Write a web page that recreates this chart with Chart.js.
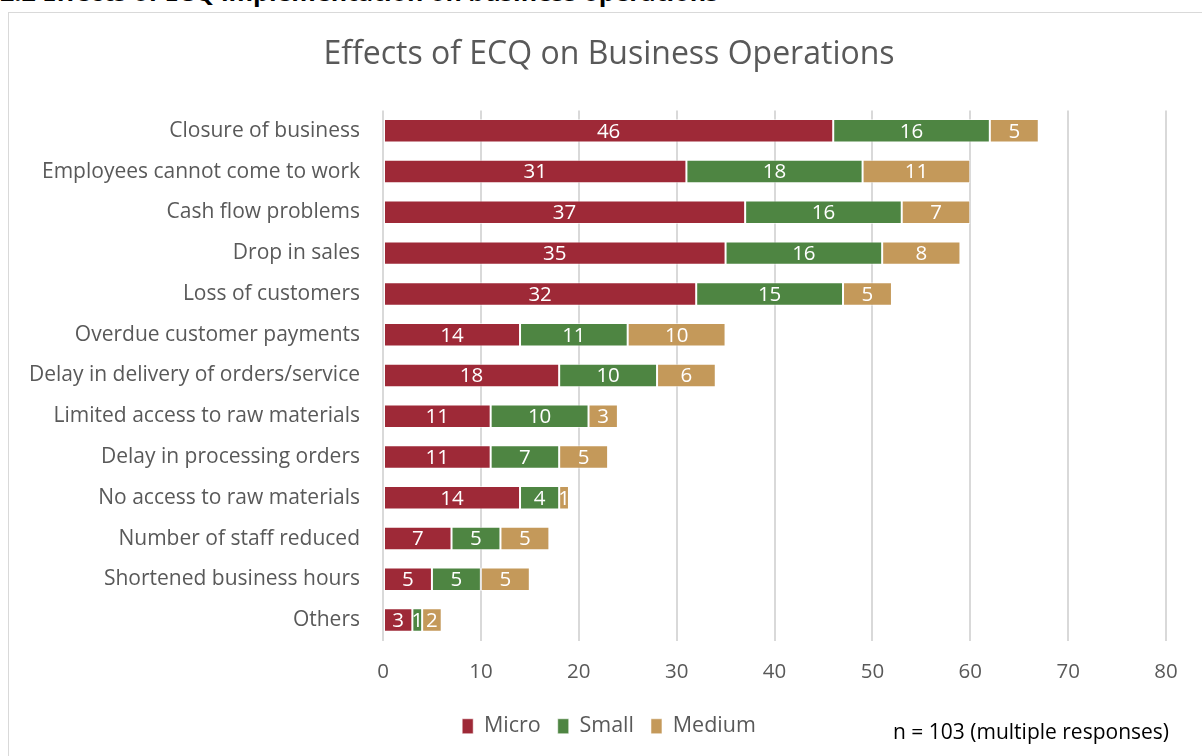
<!DOCTYPE html>
<html>
<head>
<meta charset="utf-8">
<script src="https://cdn.jsdelivr.net/npm/chart.js@4.4.1/dist/chart.umd.min.js"></script>
<style>
    html, body { margin: 0; padding: 0; background: #fff; overflow: hidden; }
    body { width: 1202px; height: 756px; position: relative; font-family: "Open Sans", sans-serif; }
    .heading {
        position: absolute; left: 0; top: -19px;
        font-size: 25px; font-weight: bold; color: #000; line-height: 20px; white-space: nowrap;
    }
    .frame {
        position: absolute; left: 8px; top: 12px; width: 1210px; height: 760px;
        border: 1px solid #d9d9d9; box-sizing: border-box;
    }
    .frame canvas { position: absolute; left: 0; top: 0; }
    .note {
        position: absolute; left: 893px; top: 717px;
        font-size: 21px; color: #000; white-space: nowrap;
    }
</style>
</head>
<body>
<div class="heading">2.2 Effects of ECQ implementation on business operations</div>
<div class="frame">
    <canvas id="chart" width="1200" height="758"></canvas>
</div>
<div class="note">n = 103 (multiple responses)</div>
<script>
const categories = [
    "Closure of business",
    "Employees cannot come to work",
    "Cash flow problems",
    "Drop in sales",
    "Loss of customers",
    "Overdue customer payments",
    "Delay in delivery of orders/service",
    "Limited access to raw materials",
    "Delay in processing orders",
    "No access to raw materials",
    "Number of staff reduced",
    "Shortened business hours",
    "Others",
];
const micro  = [46, 31, 37, 35, 32, 14, 18, 11, 11, 14, 7, 5, 3];
const small  = [16, 18, 16, 16, 15, 11, 10, 10, 7, 4, 5, 5, 1];
const medium = [5, 11, 7, 8, 5, 10, 6, 3, 5, 1, 5, 5, 2];
const xTicks = [0, 10, 20, 30, 40, 50, 60, 70, 80];

const FONT = "'Open Sans', sans-serif";
const GREY = "#595959";

// value labels centred inside every bar segment
const segmentLabels = {
    id: "segmentLabels",
    afterDatasetsDraw(chart) {
        const ctx = chart.ctx;
        ctx.save();
        ctx.font = `20.5px ${FONT}`;
        ctx.fillStyle = "#fff";
        ctx.textAlign = "center";
        ctx.textBaseline = "middle";
        chart.data.datasets.forEach((ds, i) => {
            chart.getDatasetMeta(i).data.forEach((bar, j) => {
                const v = ds.data[j];
                if (!v) return;
                ctx.fillText(String(v), (bar.x + bar.base) / 2, bar.y + 1);
            });
        });
        ctx.restore();
    },
};

function series(label, data, color) {
    return {
        label,
        data,
        backgroundColor: color,
        borderColor: "rgba(255,255,255,0.55)",
        borderWidth: 1,
        borderSkipped: false,
        categoryPercentage: 0.8,
        barPercentage: 0.72,
    };
}

new Chart(document.getElementById("chart"), {
    type: "bar",
    data: {
        labels: categories,
        datasets: [
            series("Micro", micro, "#9e2937"),
            series("Small", small, "#4e8542"),
            series("Medium", medium, "#c4995a"),
        ],
    },
    options: {
        indexAxis: "y",
        responsive: false,
        animation: false,
        layout: { padding: { left: 0, right: 0, top: 0, bottom: 24 } },
        scales: {
            x: {
                stacked: true,
                min: 0,
                max: 80,
                afterBuildTicks: (axis) => { axis.ticks = xTicks.map(v => ({ value: v })); },
                afterFit: (axis) => { axis.height = 58; },
                grid: { color: "#d9d9d9", lineWidth: 2, drawTicks: false },
                border: { display: false },
                ticks: { color: GREY, font: { family: FONT, size: 20.5 }, padding: 19 },
            },
            y: {
                stacked: true,
                afterFit: (axis) => { axis.width = 374; },
                grid: { display: false },
                border: { display: false },
                ticks: { color: GREY, font: { family: FONT, size: 21 }, padding: 15 },
            },
            // empty strip on the right so the plot stops short of the frame
            gutter: {
                axis: "y",
                type: "linear",
                position: "right",
                afterFit: (axis) => { axis.width = 43; },
                grid: { display: false },
                border: { display: false },
                ticks: { display: false },
            },
        },
        plugins: {
            title: {
                display: true,
                text: "Effects of ECQ on Business Operations",
                color: GREY,
                font: { family: FONT, size: 32, weight: "normal" },
                padding: { top: 23, bottom: 36 },
            },
            legend: {
                position: "bottom",
                labels: {
                    color: GREY,
                    font: { family: FONT, size: 21.5 },
                    boxWidth: 11,
                    boxHeight: 15,
                    padding: 17,
                },
            },
            tooltip: { enabled: false },
        },
    },
    plugins: [segmentLabels],
});
</script>
</body>
</html>
